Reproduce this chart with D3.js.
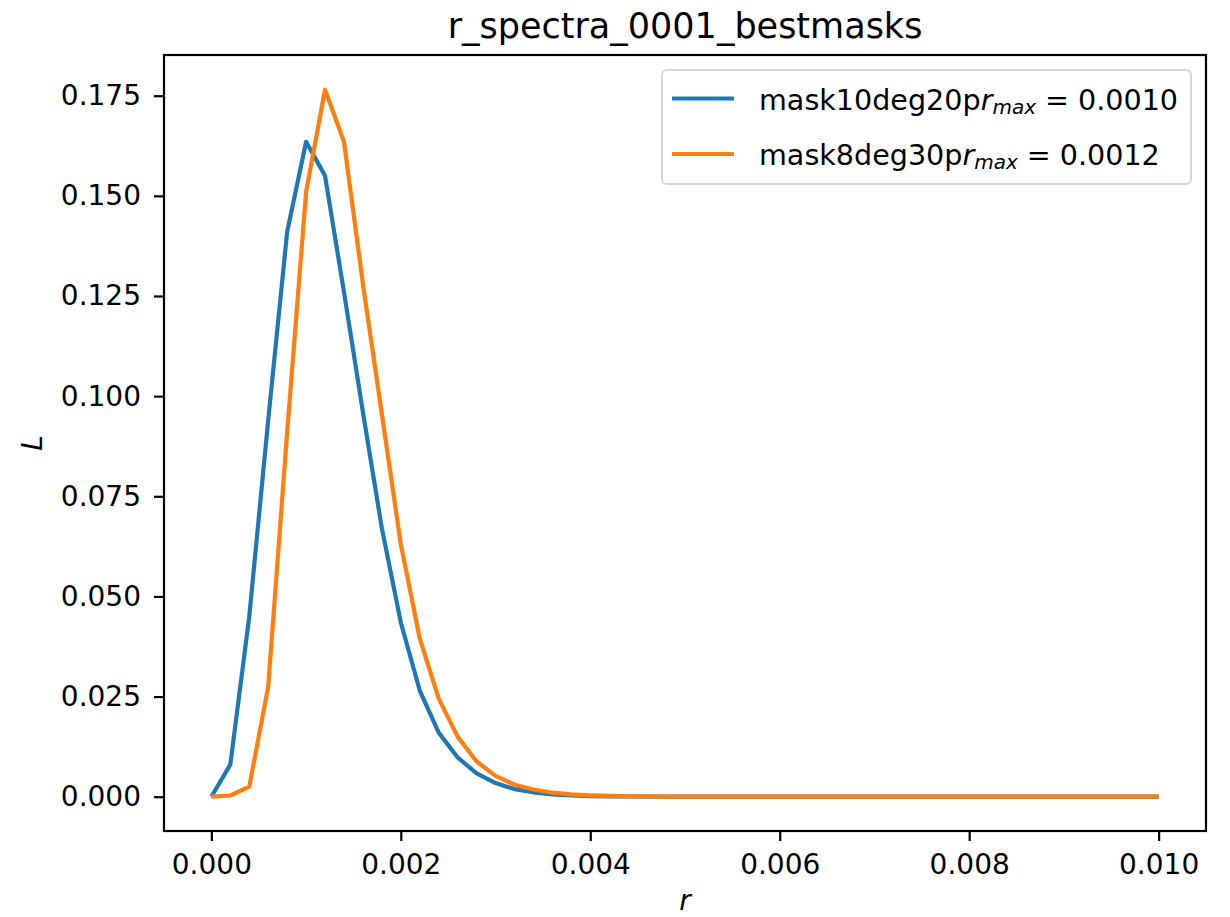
<!DOCTYPE html>
<html><head><meta charset="utf-8">
<script src="https://cdn.jsdelivr.net/npm/d3@7"></script>
<style>
body{margin:0;background:#fff}
text{font-family:"DejaVu Sans",sans-serif;fill:#000}
</style>
</head><body>
<svg id="c" width="1230" height="917"></svg>
<script>
// ---- data ----
const rValues = [0.0000,0.0002,0.0004,0.0006,0.0008,0.0010,0.0012,0.0014,0.0016,0.0018,
  0.0020,0.0022,0.0024,0.0026,0.0028,0.0030,0.0032,0.0034,0.0036,0.0038,
  0.0040,0.0042,0.0044,0.0046,0.0048,0.0050,0.0052,0.0054,0.0056,0.0058,
  0.0060,0.0062,0.0064,0.0066,0.0068,0.0070,0.0072,0.0074,0.0076,0.0078,
  0.0080,0.0082,0.0084,0.0086,0.0088,0.0090,0.0092,0.0094,0.0096,0.0098,0.0100];
const mask10deg20p = [0.0000,0.0080,0.0450,0.0940,0.1410,0.1635,0.1550,0.1260,0.0960,0.0670,
  0.0435,0.0265,0.0160,0.0098,0.0058,0.0034,0.0019,0.0011,0.0006,0.0003,
  0.00017,0.00009,0.00005,0.00003,0.00001,0,0,0,0,0,
  0,0,0,0,0,0,0,0,0,0,
  0,0,0,0,0,0,0,0,0,0,0];
const mask8deg30p = [0.0000,0.0003,0.0025,0.0275,0.0910,0.1510,0.1765,0.1635,0.1280,0.0955,
  0.0630,0.0395,0.0245,0.0150,0.0088,0.0052,0.0030,0.0018,0.0010,0.0006,
  0.00035,0.0002,0.0001,0.00006,0.00003,0.00002,0,0,0,0,
  0,0,0,0,0,0,0,0,0,0,
  0,0,0,0,0,0,0,0,0,0,0];
const seriesNames = ["mask10deg20p","mask8deg30p"];
const seriesRmax = ["0.0010","0.0012"];
const seriesColors = ["#1f77b4","#ff7f0e"];
const xTickValues = [0,0.002,0.004,0.006,0.008,0.010];
const xTickLabels = ["0.000","0.002","0.004","0.006","0.008","0.010"];
const yTickValues = [0,0.025,0.05,0.075,0.1,0.125,0.15,0.175];
const yTickLabels = ["0.000","0.025","0.050","0.075","0.100","0.125","0.150","0.175"];
const titleText = "r_spectra_0001_bestmasks";

// ---- layout ----
const L = 164, R = 1206, T = 55, B = 831;
const svg = d3.select("#c");
const x = d3.scaleLinear().domain([-0.0005, 0.0105]).range([L, R]);
const y = d3.scaleLinear().domain([-0.00856, 0.18516]).range([B, T]);

// lines
const series = [mask10deg20p, mask8deg30p];
const line = d3.line().x((d,i)=>x(rValues[i])).y(d=>y(d));
series.forEach((s,k)=>{
  svg.append("path").datum(s).attr("d", line)
    .attr("fill","none").attr("stroke", seriesColors[k])
    .attr("stroke-width", 4.2).attr("stroke-linejoin","round").attr("stroke-linecap","butt");
});

// axes
const xAxis = d3.axisBottom(x).tickValues(xTickValues)
  .tickFormat((d,i)=>xTickLabels[i]).tickSize(10).tickPadding(13);
const gx = svg.append("g").attr("transform",`translate(0,${B})`).call(xAxis);
const yAxis = d3.axisLeft(y).tickValues(yTickValues)
  .tickFormat((d,i)=>yTickLabels[i]).tickSize(10).tickPadding(13);
const gy = svg.append("g").attr("transform",`translate(${L},0)`).call(yAxis);
[gx,gy].forEach(g=>{
  g.select(".domain").remove();
  g.selectAll(".tick line").attr("stroke","#000").attr("stroke-width",2.2);
  g.selectAll(".tick text").attr("font-size",28).attr("font-family","DejaVu Sans").attr("fill","#000");
});

// spines
svg.append("rect").attr("x",L).attr("y",T).attr("width",R-L).attr("height",B-T)
  .attr("fill","none").attr("stroke","#000").attr("stroke-width",2.2);

// title & labels
svg.append("text").attr("x",(L+R)/2).attr("y",38).attr("text-anchor","middle")
  .attr("font-size",35).text(titleText);
svg.append("text").attr("x",(L+R)/2).attr("y",910).attr("text-anchor","middle")
  .attr("font-size",28).attr("font-style","italic").text("r");
svg.append("text").attr("transform","translate(42,443) rotate(-90)").attr("text-anchor","middle")
  .attr("font-size",28).attr("font-style","italic").text("L");

// legend
const lg = svg.append("g");
lg.append("rect").attr("x",662).attr("y",70).attr("width",529).attr("height",114)
  .attr("rx",5).attr("fill","#fff").attr("fill-opacity",0.8)
  .attr("stroke","#d5d5d5").attr("stroke-width",2);
const rowY = [98.5, 154];
seriesNames.forEach((n,k)=>{
  lg.append("line").attr("x1",672).attr("x2",734).attr("y1",rowY[k]).attr("y2",rowY[k])
    .attr("stroke",seriesColors[k]).attr("stroke-width",4.2);
  const t = lg.append("text").attr("x",759).attr("y",rowY[k]+11).attr("font-size",28.6);
  t.append("tspan").text(n);
  t.append("tspan").attr("font-style","italic").text("r");
  t.append("tspan").attr("font-style","italic").attr("font-size",20).attr("dy",4).text("max");
  t.append("tspan").attr("dy",-4).attr("dx",9).text("=");
  t.append("tspan").attr("dx",9).text(seriesRmax[k]);
});
</script>
</body></html>
